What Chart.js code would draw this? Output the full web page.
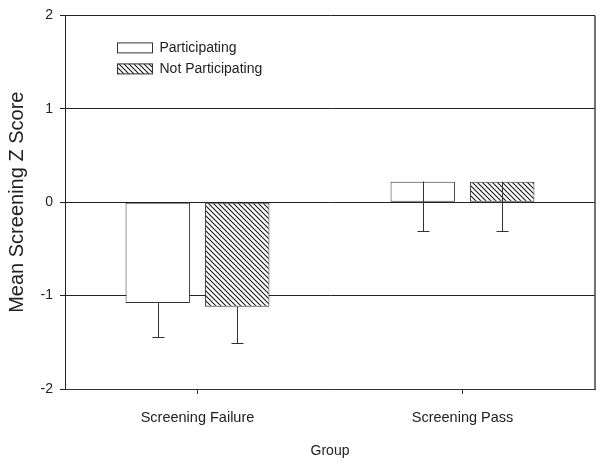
<!doctype html>
<html lang="en">
<head>
<meta charset="utf-8">
<title>Mean Screening Z Score by Group</title>
<script src="https://cdn.jsdelivr.net/npm/chart.js"></script>
<style>
  body{margin:0;background:#fff}
  #wrap{width:606px;height:467px}
</style>
</head>
<body>
<div id="wrap"><canvas id="chart" width="606" height="467"></canvas></div>
<script>
/* ---------- data ------------------------------------------------------ */
const groups           = ['Screening Failure','Screening Pass'];
const seriesNames      = ['Participating','Not Participating'];
const participating    = [-1.08, 0.22];
const notParticipating = [-1.12, 0.22];
// lower end of each error bar (only the lower bar is drawn)
const participatingLow    = [-1.44, -0.31];
const notParticipatingLow = [-1.51, -0.31];
const yTicks = [-2,-1,0,1,2];

/* ---------- helper: diagonal hatch fill ------------------------------ */
const canvas = document.getElementById('chart');
function hatch(){
  const s=5, c=document.createElement('canvas'); c.width=c.height=s;
  const g=c.getContext('2d');
  g.fillStyle='#fff'; g.fillRect(0,0,s,s);
  g.strokeStyle='#1a1a1a'; g.lineWidth=1.1;
  g.beginPath();
  g.moveTo(-1,-1); g.lineTo(s+1,s+1);
  g.moveTo(-1,s-1); g.lineTo(1,s+1);
  g.moveTo(s-1,-1); g.lineTo(s+1,1);
  g.stroke();
  return canvas.getContext('2d').createPattern(c,'repeat');
}
const hatchFill = hatch();

/* ---------- plugins -------------------------------------------------- */
const errorBars = {
  id:'errorBars',
  afterDatasetsDraw(chart){
    const {ctx, scales:{y}} = chart;
    ctx.save(); ctx.strokeStyle='#333'; ctx.lineWidth=1;
    chart.data.datasets.forEach((ds,i)=>{
      chart.getDatasetMeta(i).data.forEach((bar,j)=>{
        const x=Math.round(bar.x)+0.5;
        const y0=y.getPixelForValue(ds.data[j]), y1=Math.round(y.getPixelForValue(ds.low[j]))+0.5;
        ctx.beginPath();
        ctx.moveTo(x,y0); ctx.lineTo(x,y1);
        ctx.moveTo(x-6,y1); ctx.lineTo(x+6,y1);
        ctx.stroke();
      });
    });
    ctx.restore();
  }
};

const frameAndLegend = {
  id:'frameAndLegend',
  afterDraw(chart){
    const {ctx, chartArea:a} = chart;
    ctx.save();
    // right edge of the frame
    ctx.strokeStyle='#444'; ctx.lineWidth=1.5;
    ctx.beginPath(); ctx.moveTo(a.right,a.top); ctx.lineTo(a.right,a.bottom); ctx.stroke();
    // legend, inside the plot area
    ctx.font='14px "Liberation Sans", Arial, sans-serif';
    ctx.textBaseline='middle';
    chart.data.datasets.forEach((ds,i)=>{
      const bx=a.left+52.5, by=a.top+27.5+i*21;
      ctx.fillStyle=ds.backgroundColor; ctx.fillRect(bx,by,35,10);
      ctx.strokeStyle='#333'; ctx.lineWidth=1; ctx.strokeRect(bx,by,35,10);
      ctx.fillStyle='#222'; ctx.fillText(ds.label,bx+42,by+5);
    });
    ctx.restore();
  }
};

/* ---------- chart ---------------------------------------------------- */
Chart.defaults.font.family='"Liberation Sans", Arial, sans-serif';
Chart.defaults.font.size=14;
Chart.defaults.color='#222';

new Chart(canvas,{
  type:'bar',
  data:{labels:groups,datasets:[
    {label:seriesNames[0], data:participating,    low:participatingLow,
     backgroundColor:'#fff', borderColor:'#333', borderWidth:1, borderSkipped:false},
    {label:seriesNames[1], data:notParticipating, low:notParticipatingLow,
     backgroundColor:hatchFill, borderColor:'#333', borderWidth:1, borderSkipped:false}
  ]},
  options:{
    responsive:false, devicePixelRatio:1, animation:false,
    barPercentage:0.81, categoryPercentage:0.6,
    layout:{padding:{left:0,right:11,top:7,bottom:0}},
    plugins:{legend:{display:false}, tooltip:{enabled:false}},
    scales:{
      x:{
        afterFit(s){ s.height=78; },
        grid:{offset:false, drawOnChartArea:false, drawTicks:true, tickLength:5, color:'#333'},
        border:{display:true, color:'#333'},
        ticks:{padding:15, font:{size:14.5}},
        title:{display:true, text:'Group', padding:{top:0,bottom:7}}
      },
      y:{
        min:-2, max:2,
        afterBuildTicks(s){ s.ticks=yTicks.map(v=>({value:v})); },
        afterFit(s){ s.width=65; },
        grid:{color:'#222', lineWidth:1, drawTicks:true, tickLength:5},
        border:{display:true, color:'#222'},
        ticks:{padding:7, callback:v=>String(v)},
        title:{display:true, text:'Mean Screening Z Score', font:{size:20}, padding:{top:5,bottom:0}}
      }
    }
  },
  plugins:[errorBars, frameAndLegend]
});
</script>
</body>
</html>
